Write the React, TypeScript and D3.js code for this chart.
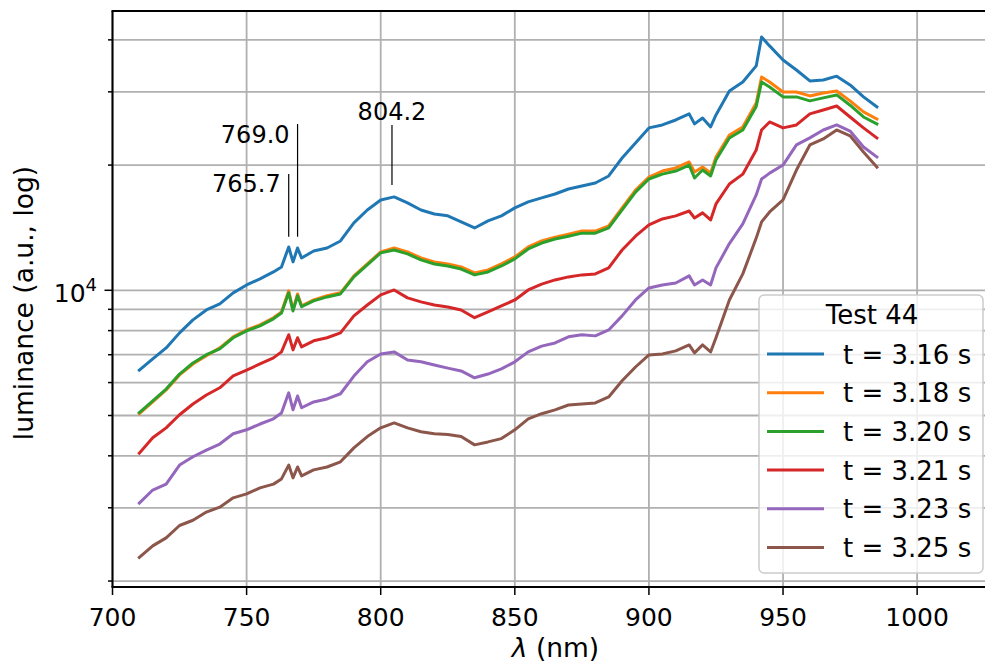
import React from "react";
import * as d3 from "d3";

// ---- data ----
const WAVELENGTHS = [
  710, 715, 720, 725, 730, 735, 740, 745, 750, 755, 760, 763, 765.7, 767.3, 769, 770.5,
  775, 780, 785, 790, 795, 800, 805, 810, 815, 820, 825, 830, 835, 840, 845, 850, 855,
  860, 865, 870, 875, 880, 885, 890, 895, 900, 905, 910, 915, 917, 920, 923, 925, 930,
  935, 940, 942, 945, 950, 955, 960, 965, 970, 975, 980, 985,
];

const T316 = [
  6430, 6840, 7270, 7900, 8490, 8970, 9280, 9860, 10300, 10650, 11070, 11380, 12710, 11700, 12640, 11960,
  12430, 12640, 13140, 14520, 15600, 16490, 16770, 16220, 15600, 15260, 15100, 14600, 14120, 14680, 15100, 15780, 16310,
  16680, 17040, 17520, 17820, 18110, 18830, 20800, 22610, 24570, 24980, 25670, 26550, 25120, 25960, 24700, 26400, 30150,
  31690, 34630, 40660, 38690, 35790, 33860, 31860, 32030, 32720, 31170, 29170, 27600,
];

const T318 = [
  5050, 5390, 5760, 6260, 6650, 6960, 7270, 7730, 8030, 8260, 8590, 8870, 9970, 8970, 9800, 9180,
  9480, 9700, 9860, 10830, 11570, 12370, 12640, 12370, 11960, 11700, 11570, 11380, 11010, 11190, 11570, 12030, 12710,
  13140, 13420, 13640, 13880, 13880, 14280, 15780, 17420, 18720, 19350, 19680, 20350, 19240, 19790, 19140, 20910, 23630,
  24700, 28190, 32570, 31690, 29980, 29980, 29330, 29820, 30150, 28530, 26840, 25810,
];

const T320 = [
  5080, 5420, 5790, 6290, 6690, 7000, 7230, 7690, 7990, 8210, 8540, 8820, 9860, 8920, 9700, 9130,
  9430, 9640, 9800, 10770, 11510, 12300, 12500, 12230, 11830, 11570, 11440, 11250, 10890, 11070, 11440, 11900, 12570,
  12990, 13280, 13490, 13720, 13720, 14120, 15600, 17220, 18520, 19020, 19350, 20000, 18620, 19460, 18830, 20570, 23240,
  24290, 27670, 31690, 30820, 29170, 29170, 28530, 29010, 29490, 27860, 26100, 25120,
];

const T321 = [
  4060, 4420, 4670, 5020, 5330, 5600, 5830, 6230, 6430, 6650, 6880, 7110, 7820, 7190, 7690, 7310,
  7560, 7690, 7900, 8680, 9220, 9750, 10020, 9590, 9380, 9220, 9120, 8970, 8590, 8870, 9170, 9480, 10020,
  10350, 10590, 10770, 10890, 10950, 11320, 12500, 13490, 14360, 14840, 15100, 15510, 14920, 15350, 14760, 16130, 18010,
  19020, 21740, 24290, 25390, 24570, 24980, 26550, 27130, 27740, 26100, 24570, 23240,
];

const T323 = [
  3080, 3310, 3420, 3800, 3980, 4130, 4270, 4520, 4620, 4770, 4910, 5070, 5670, 5160, 5570, 5220,
  5390, 5480, 5640, 6220, 6730, 7030, 7110, 6800, 6730, 6610, 6500, 6400, 6160, 6290, 6470, 6730, 7110,
  7340, 7470, 7730, 7820, 7770, 8030, 8680, 9480, 10130, 10300, 10410, 10830, 10300, 10590, 10300, 11320, 12950,
  14440, 16950, 18510, 19130, 20000, 22360, 23250, 24290, 24980, 24150, 22100, 20920,
];

const T325 = [
  2280, 2430, 2540, 2720, 2800, 2930, 3010, 3170, 3240, 3350, 3420, 3520, 3800, 3540, 3760, 3580,
  3700, 3760, 3870, 4180, 4450, 4670, 4800, 4670, 4570, 4520, 4500, 4450, 4250, 4320, 4400, 4620, 4910,
  5050, 5160, 5300, 5330, 5360, 5540, 6060, 6540, 6990, 7030, 7150, 7390, 7070, 7390, 7110, 7690, 9480,
  10950, 13350, 14600, 15430, 16490, 19460, 22360, 23110, 24290, 23520, 21500, 19780,
];

const SERIES_LABELS = ["t = 3.16 s", "t = 3.18 s", "t = 3.20 s", "t = 3.21 s", "t = 3.23 s", "t = 3.25 s"];
const SERIES_VALUES = [T316, T318, T320, T321, T323, T325];
const SERIES_COLORS = ["#1f77b4", "#ff7f0e", "#2ca02c", "#d62728", "#9467bd", "#8c564b"];
const LEGEND_TITLE = "Test 44";

const X_TICKS = [700, 750, 800, 850, 900, 950, 1000];
const Y_MINOR_TICKS = [2000, 3000, 4000, 5000, 6000, 7000, 8000, 9000, 20000, 30000, 40000];
const Y_MAJOR_TICKS = [10000];

const ANNOTATIONS = [
  { label: "765.7", x: 765.7, yTop: 19040, yBottom: 13450, place: "left" },
  { label: "769.0", x: 769.0, yTop: 25100, yBottom: 13450, place: "left" },
  { label: "804.2", x: 804.2, yTop: 24970, yBottom: 17910, place: "above" },
];

const W = 985;
const H = 666;
const FONT = "'DejaVu Sans', sans-serif";
const FS_TICK = 25;
const FS_LABEL = 26.5;
const FS_LEGEND = 26;
const FS_ANN = 24;

export default function App() {
  const left = 112.5;
  const right = 997.6;
  const top = 11;
  const bottom = 587;

  const x = d3.scaleLinear().domain([700, 1030]).range([left, right]);
  const y = d3.scaleLog().domain([1935, 46930]).range([bottom, top]);

  const line = d3
    .line<number>()
    .x((_, i) => x(WAVELENGTHS[i]))
    .y((d) => y(d));

  const grid = "#b0b0b0";

  const legX = 759;
  const legY = 295;
  const legW = 224;
  const legH = 278;
  const rowH = 38.7;

  return (
    <svg
      width={W}
      height={H}
      viewBox={`0 0 ${W} ${H}`}
      style={{ position: "absolute", left: 0, top: 0, background: "#fff" }}
      fontFamily={FONT}
    >
      <rect x={0} y={0} width={W} height={H} fill="#fff" />
      <defs>
        <clipPath id="plotclip">
          <rect x={left} y={top} width={right - left} height={bottom - top} />
        </clipPath>
      </defs>

      {/* grid */}
      <g>
        {X_TICKS.map((t) => (
          <line key={"gx" + t} x1={x(t)} x2={x(t)} y1={top} y2={bottom} stroke={grid} strokeWidth={1.8} />
        ))}
        {[...Y_MINOR_TICKS, ...Y_MAJOR_TICKS].map((t) => (
          <line key={"gy" + t} x1={left} x2={right} y1={y(t)} y2={y(t)} stroke={grid} strokeWidth={1.8} />
        ))}
      </g>

      {/* series */}
      <g clipPath="url(#plotclip)">
        {SERIES_VALUES.map((vals, i) => (
          <path
            key={SERIES_LABELS[i]}
            d={line(vals) || ""}
            fill="none"
            stroke={SERIES_COLORS[i]}
            strokeWidth={3}
            strokeLinejoin="round"
            strokeLinecap="square"
          />
        ))}
      </g>

      {/* annotations */}
      <g>
        {ANNOTATIONS.map((a) => {
          const ax = x(a.x);
          const yt = y(a.yTop);
          const yb = y(a.yBottom);
          return (
            <g key={a.label}>
              <line x1={ax} x2={ax} y1={yt} y2={yb} stroke="#000" strokeWidth={1.2} />
              {a.place === "left" ? (
                <text x={ax - 8} y={yt + 18.5} textAnchor="end" fontSize={FS_ANN} fill="#000">
                  {a.label}
                </text>
              ) : (
                <text x={ax} y={yt - 4.5} textAnchor="middle" fontSize={FS_ANN} fill="#000">
                  {a.label}
                </text>
              )}
            </g>
          );
        })}
      </g>

      {/* spines */}
      <line x1={left} x2={left} y1={top} y2={bottom} stroke="#000" strokeWidth={2} />
      <line x1={left - 1} x2={W} y1={bottom} y2={bottom} stroke="#000" strokeWidth={2} />
      <line x1={left - 1} x2={W} y1={top} y2={top} stroke="#000" strokeWidth={2} />

      {/* x ticks */}
      <g>
        {X_TICKS.map((t) => (
          <g key={"xt" + t}>
            <line x1={x(t)} x2={x(t)} y1={bottom} y2={bottom + 8} stroke="#000" strokeWidth={1.5} />
            <text x={x(t)} y={bottom + 39} textAnchor="middle" fontSize={FS_TICK} fill="#000">
              {t}
            </text>
          </g>
        ))}
      </g>

      {/* y ticks */}
      <g>
        {Y_MINOR_TICKS.map((t) => (
          <line key={"ymt" + t} x1={left - 4.5} x2={left} y1={y(t)} y2={y(t)} stroke="#000" strokeWidth={1.5} />
        ))}
        {Y_MAJOR_TICKS.map((t) => (
          <g key={"yt" + t}>
            <line x1={left - 8} x2={left} y1={y(t)} y2={y(t)} stroke="#000" strokeWidth={1.5} />
            <text x={97} y={y(t) + 11.5} textAnchor="end" fontSize={FS_TICK} fill="#000">
              10
              <tspan fontSize={18} dy={-10.5}>
                {Math.round(Math.log10(t))}
              </tspan>
            </text>
          </g>
        ))}
      </g>

      {/* axis labels */}
      <text x={555.5} y={657} textAnchor="middle" fontSize={FS_LABEL} fill="#000">
        <tspan fontStyle="italic">λ</tspan> (nm)
      </text>
      <text
        transform={`translate(33, 303) rotate(-90)`}
        textAnchor="middle"
        fontSize={FS_LABEL}
        fill="#000"
      >
        luminance (a.u., log)
      </text>

      {/* legend */}
      <g>
        <rect
          x={legX}
          y={legY}
          width={legW}
          height={legH}
          rx={5}
          ry={5}
          fill="#fff"
          fillOpacity={0.8}
          stroke="#cccccc"
          strokeWidth={1.5}
        />
        <text x={legX + legW / 2 + 1} y={legY + 29} textAnchor="middle" fontSize={FS_LEGEND} fill="#000">
          {LEGEND_TITLE}
        </text>
        {SERIES_LABELS.map((lab, i) => {
          const cy = 354 + i * rowH;
          return (
            <g key={"leg" + lab}>
              <line x1={767} x2={824} y1={cy} y2={cy} stroke={SERIES_COLORS[i]} strokeWidth={3} />
              <text x={843} y={cy + 9.5} fontSize={FS_LEGEND} fill="#000">
                {lab}
              </text>
            </g>
          );
        })}
      </g>
    </svg>
  );
}
